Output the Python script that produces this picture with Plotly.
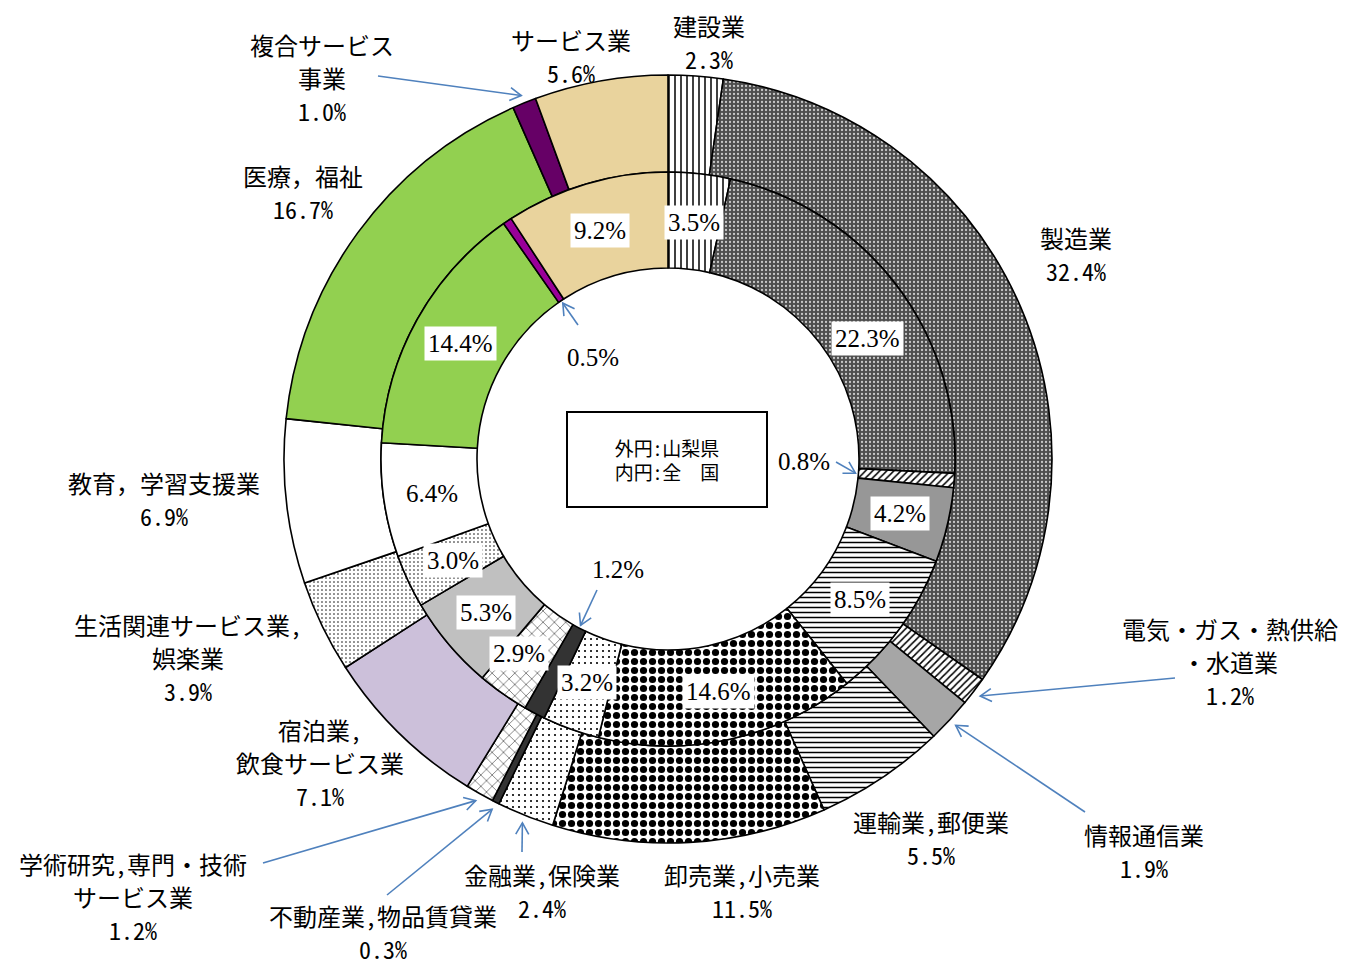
import math
import plotly.graph_objects as go

# ---------------- data ----------------
categories = ["建設業", "製造業", "電気・ガス・熱供給・水道業", "情報通信業", "運輸業,郵便業",
              "卸売業,小売業", "金融業,保険業", "不動産業,物品賃貸業", "学術研究,専門・技術サービス業",
              "宿泊業,飲食サービス業", "生活関連サービス業,娯楽業", "教育，学習支援業", "医療，福祉",
              "複合サービス事業", "サービス業"]
yamanashi = [2.3, 32.4, 1.2, 1.9, 5.5, 11.5, 2.4, 0.3, 1.2, 7.1, 3.9, 6.9, 16.7, 1.0, 5.6]
national = [3.5, 22.3, 0.8, 4.2, 8.5, 14.6, 3.2, 1.2, 2.9, 5.3, 3.0, 6.4, 14.4, 0.5, 9.2]
outer_label_text = ["建設業", "製造業", "電気・ガス・熱供給<br>・水道業", "情報通信業", "運輸業,郵便業",
                    "卸売業,小売業", "金融業,保険業", "不動産業,物品賃貸業", "学術研究,専門・技術<br>サービス業",
                    "宿泊業,<br>飲食サービス業", "生活関連サービス業,<br>娯楽業", "教育，学習支援業", "医療，福祉",
                    "複合サービス<br>事業", "サービス業"]
legend_text = "外円:山梨県<br>内円:全　国"

# ---------------- styles / layout ----------------
W, H = 1349, 969
CX, CY = 668, 459
R_OUT, R_MID, R_IN = 384, 287, 191
LINE_GAP = 33

outer_colors = ["#ffffff", "#4d4d4d", "#ffffff", "#a6a6a6", "#ffffff", "#ffffff", "#ffffff", "#333333",
                "#ffffff", "#ccc0da", "#ffffff", "#ffffff", "#92d050", "#660066", "#e9d39d"]
inner_colors = ["#ffffff", "#4d4d4d", "#ffffff", "#979797", "#ffffff", "#ffffff", "#ffffff", "#333333",
                "#ffffff", "#c0c0c0", "#ffffff", "#ffffff", "#92d050", "#990099", "#e9d39d"]
pat_shape = ["|", ".", "/", "", "-", ".", ".", "", "x", "", ".", "", "", "", ""]
pat_fg = ["#000000", "#c8c8c8", "#000000", "#000000", "#000000", "#000000", "#000000", "#000000",
          "#404040", "#000000", "#000000", "#000000", "#000000", "#000000", "#000000"]
pat_size = [6, 4, 5, 8, 5, 9, 6, 8, 8, 8, 4, 8, 8, 8, 8]
pat_solid = [0.25, 0.25, 0.3, 0.3, 0.3, 0.5, 0.1, 0.3, 0.15, 0.3, 0.12, 0.3, 0.3, 0.3, 0.3]

# outer label block centres (pixels)
outer_label_pos = [(709, 42), (1076, 254), (1230, 661), (1144, 851), (931, 838), (742, 891),
                   (542, 891), (383, 932), (133, 896), (320, 762), (188, 657), (164, 499),
                   (303, 192), (322, 77), (571, 56)]
# arrow tails for small outer slices
outer_arrow_tail = {2: (1175, 678), 3: (1085, 812), 6: (522, 852), 7: (387, 895), 8: (263, 863), 13: (378, 76)}
# inner labels placed in the hole with arrows
inner_out_pos = {2: (804, 461), 7: (618, 569), 13: (593, 357)}
inner_arrow_tail = {2: (836, 462), 7: (597, 590), 13: (578, 325)}
inner_nudge = {1: (10, 24), 8: (-12, 0)}

GOTHIC = "Noto Sans Mono CJK JP, Liberation Mono, Noto Sans CJK JP"
SERIF = "Liberation Serif, Noto Sans CJK JP"
ARROW_C = "#4f81bd"


def mid_point(values, i, r):
    tot = sum(values)
    frac = (sum(values[:i]) + values[i] / 2) / tot
    th = 2 * math.pi * frac
    return CX + r * math.sin(th), CY - r * math.cos(th)


def dom(r):
    return dict(x=[(CX - r) / W, (CX + r) / W], y=[(H - CY - r) / H, (H - CY + r) / H])


def pie(values, colors, r, hole):
    return go.Pie(
        values=values, labels=categories, sort=False, direction="clockwise", rotation=0,
        hole=hole, domain=dom(r), textinfo="none", hoverinfo="skip", showlegend=False,
        marker=dict(colors=colors, line=dict(color="#000000", width=1.6),
                    pattern=dict(shape=pat_shape, fgcolor=pat_fg, bgcolor=colors,
                                 size=pat_size, solidity=pat_solid, fillmode="replace")),
    )


fig = go.Figure()
fig.add_trace(pie(yamanashi, outer_colors, R_OUT, R_MID / R_OUT))
fig.add_trace(pie(national, inner_colors, R_MID, R_IN / R_MID))
fig.add_trace(go.Scatter(x=[], y=[], showlegend=False, hoverinfo="skip"))

annotations = []
shapes = []


def arrow(tail, tip):
    sx, sy = tail
    tx, ty = tip
    shapes.append(dict(type="line", xref="x", yref="y", x0=sx, y0=sy, x1=tx, y1=ty,
                       line=dict(color=ARROW_C, width=1.6)))
    d = math.hypot(tx - sx, ty - sy)
    ux, uy = (tx - sx) / d, (ty - sy) / d
    L, a = 13, math.radians(30)
    pts = []
    for s in (1, -1):
        ca, sa = math.cos(s * a), math.sin(s * a)
        vx, vy = ux * ca - uy * sa, ux * sa + uy * ca
        pts.append((tx - L * vx, ty - L * vy))
    path = f"M{pts[0][0]},{pts[0][1]} L{tx},{ty} L{pts[1][0]},{pts[1][1]}"
    shapes.append(dict(type="path", xref="x", yref="y", path=path,
                       line=dict(color=ARROW_C, width=1.6)))


# outer labels, one annotation per line
for i, (txt, v) in enumerate(zip(outer_label_text, yamanashi)):
    x, y = outer_label_pos[i]
    lines = txt.split("<br>") + [f"{v:.1f}%"]
    n = len(lines)
    for k, line in enumerate(lines):
        ly = y + (k - (n - 1) / 2) * LINE_GAP
        annotations.append(dict(x=x, y=ly, xref="x", yref="y", text=line, showarrow=False,
                                xanchor="center", yanchor="middle", align="center",
                                font=dict(family=GOTHIC, size=24, color="#000000")))
    if i in outer_arrow_tail:
        arrow(outer_arrow_tail[i], mid_point(yamanashi, i, R_OUT + 8))

# inner labels
R_LAB = (R_MID + R_IN) / 2 - 1
for i, v in enumerate(national):
    if i in inner_out_pos:
        x, y = inner_out_pos[i]
        annotations.append(dict(x=x, y=y, xref="x", yref="y", text=f"{v:.1f}%", showarrow=False,
                                font=dict(family=SERIF, size=25, color="#000000")))
        arrow(inner_arrow_tail[i], mid_point(national, i, R_IN - 3))
    else:
        x, y = mid_point(national, i, R_LAB)
        dx, dy = inner_nudge.get(i, (0, 0))
        annotations.append(dict(x=x + dx, y=y + dy, xref="x", yref="y", text=f"{v:.1f}%", showarrow=False,
                                bgcolor="#ffffff", borderpad=3,
                                font=dict(family=SERIF, size=25, color="#000000")))

# centre legend box
annotations.append(dict(x=CX - 1, y=CY, xref="x", yref="y", text=legend_text, showarrow=False,
                        width=196, height=91, bgcolor="#ffffff", bordercolor="#000000", borderwidth=2,
                        font=dict(family=GOTHIC, size=19, color="#000000")))

fig.update_layout(
    width=W, height=H, margin=dict(l=0, r=0, t=0, b=0),
    paper_bgcolor="#ffffff", plot_bgcolor="rgba(0,0,0,0)",
    xaxis=dict(range=[0, W], visible=False, fixedrange=True, domain=[0, 1]),
    yaxis=dict(range=[H, 0], visible=False, fixedrange=True, domain=[0, 1]),
    annotations=annotations, shapes=shapes,
)

fig.write_html("out.html", config={"displayModeBar": False},
               post_script="document.body.style.margin='0';document.body.style.overflow='hidden';")
